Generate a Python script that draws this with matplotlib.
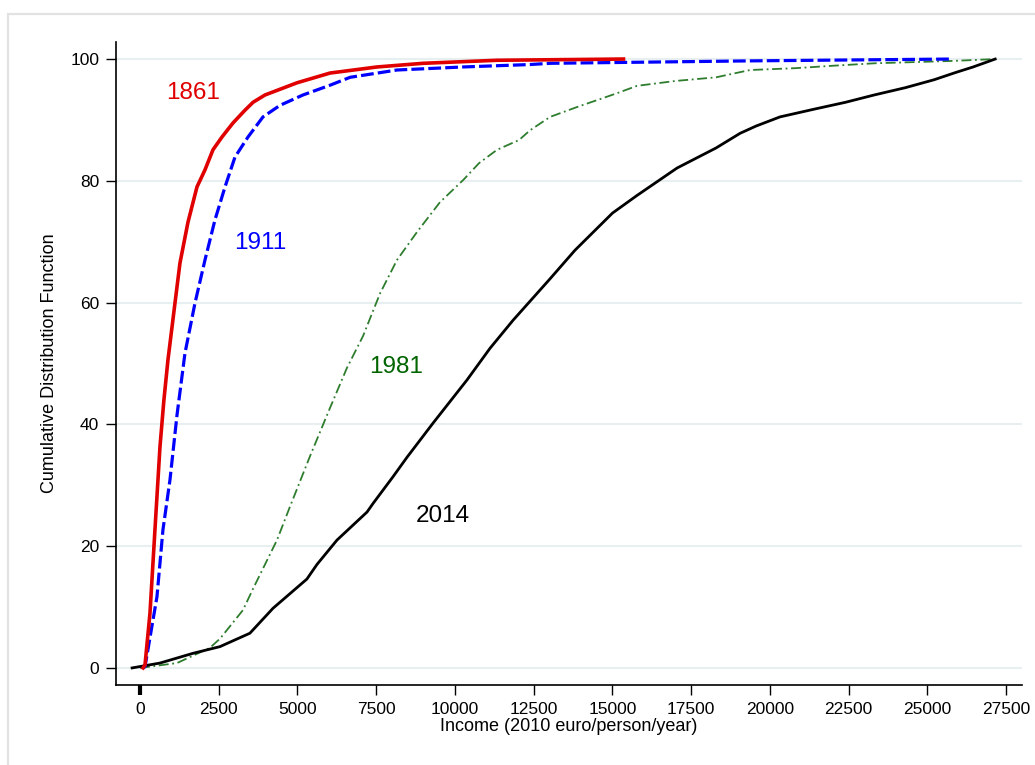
import matplotlib
matplotlib.use("Agg")
import matplotlib.pyplot as plt
from matplotlib.patches import Rectangle

plt.rcParams['font.family'] = ['Liberation Sans', 'DejaVu Sans']

# income (2010 euro/person/year) and cumulative share (%)
income_1861 = [100, 160, 318, 476, 635, 760, 889, 1111, 1270, 1524, 1810, 2064,
               2318, 2604, 2953, 3334, 3590, 3970, 4985, 6033, 7526, 8987,
               11336, 15350]
cdf_1861 = [0, 0.5, 9, 22.7, 36.3, 44, 50.6, 59.9, 66.5, 73.2, 79.0, 81.8,
            85.1, 87.2, 89.5, 91.6, 92.9, 94.1, 96.1, 97.7, 98.7, 99.3,
            99.8, 100]

income_1911 = [100, 160, 540, 730, 953, 1175, 1429, 1746, 2064, 2382, 2700, 3016,
               3430, 3906, 4446, 5176, 6033, 6670, 8160, 10256, 12384, 13020,
               19370, 25750]
cdf_1911 = [0, 0.2, 11.7, 22.7, 30.9, 41.5, 51.7, 59.9, 67.0, 73.6, 79.0, 83.9,
            87.2, 90.5, 92.4, 94.1, 95.7, 97.0, 98.2, 98.7, 99.1, 99.3,
            99.7, 100]

income_1981 = [0, 1175, 2220, 2540, 3270, 3590, 4350, 4763, 5400, 6033, 6573,
               7081, 7621, 8160, 8796, 9525, 10256, 10764, 11336, 12035, 12384,
               13020, 13972, 14540, 15150, 15780, 17000, 18290, 19370, 20800,
               22000, 23310, 25850, 27150]
cdf_1981 = [0, 0.8, 3.3, 4.8, 9.5, 13.0, 21.0, 26.5, 34.8, 42.7, 49.3,
            54.5, 61.5, 67.0, 71.6, 76.5, 80.1, 82.9, 85.1, 86.7, 88.3,
            90.5, 92.3, 93.3, 94.4, 95.6, 96.4, 97.0, 98.2, 98.5,
            98.9, 99.3, 99.7, 100]

income_2014 = [-250, 635, 1683, 2540, 3490, 4224, 5300, 5620, 6255, 7208, 7398,
               8033, 8478, 9303, 10383, 11113, 11844, 13000, 13810, 15000, 15780,
               17050, 18290, 19050, 19560, 20320, 21430, 22400, 23310, 24300,
               25210, 25900, 26450, 27150]
cdf_2014 = [0, 0.8, 2.4, 3.5, 5.7, 9.8, 14.6, 17.0, 21.0, 25.6, 27.0,
            31.4, 34.6, 40.2, 47.3, 52.5, 57.1, 63.8, 68.6, 74.7, 77.6,
            82.1, 85.4, 87.8, 89.0, 90.5, 91.8, 92.9, 94.1, 95.3,
            96.6, 97.8, 98.7, 100]

years = ['1861', '1911', '1981', '2014']
label_x = [1683, 3810, 8130, 9620]
label_y = [94.4, 69.8, 49.4, 25.0]
label_colors = ['#e00000', '#0000ff', '#006400', 'black']

x_ticks = list(range(0, 27501, 2500))
y_ticks = [0, 20, 40, 60, 80, 100]

fig = plt.figure(figsize=(10.35, 7.65), dpi=100)
ax = fig.add_axes([0.1121, 0.1046, 0.8753, 0.8405])

# light frame around the graph region
fig.patches.append(Rectangle((0.008, -0.1), 1.2, 1.0817, transform=fig.transFigure,
                             fill=False, ec='#e2e2e2', lw=1.6, clip_on=False))

for yv in y_ticks:
    ax.axhline(yv, color='#e8eff1', lw=1.5, zorder=0)

ax.plot(income_1981, cdf_1981, color='#2e7d2e', lw=1.3, dashes=(5.5, 2, 1, 2))
ax.plot(income_2014, cdf_2014, color='black', lw=2.0)
ax.plot(income_1911, cdf_1911, color='#0000ff', lw=2.3, dashes=(4, 1.3))
ax.plot(income_1861, cdf_1861, color='#e00000', lw=2.6)

for name, lx, ly, c in zip(years, label_x, label_y, label_colors):
    ax.text(lx, ly, name, color=c, fontsize=17.5, ha='center', va='center')

ax.set_xlim(-760, 28000)
ax.set_ylim(-2.8, 102.8)
ax.set_xticks(x_ticks)
ax.set_yticks(y_ticks)
ax.tick_params(direction='out', length=7, width=1, labelsize=12.5, pad=5)
ax.xaxis.get_major_ticks()[0].tick1line.set_markeredgewidth(3)
ax.spines['top'].set_visible(False)
ax.spines['right'].set_visible(False)
ax.spines['left'].set_linewidth(1.2)
ax.spines['bottom'].set_linewidth(1.2)

ax.set_xlabel('Income (2010 euro/person/year)', fontsize=13, labelpad=1)
ax.set_ylabel('Cumulative Distribution Function', fontsize=13, labelpad=9)

fig.savefig('out.png', dpi=100)
